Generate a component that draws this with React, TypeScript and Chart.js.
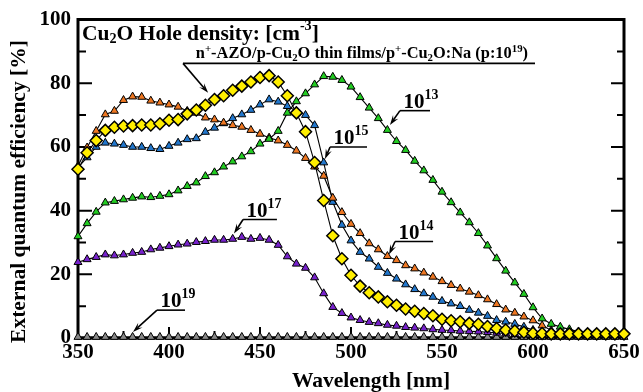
import React, { useEffect, useRef } from 'react';
import { Chart, registerables } from 'chart.js';
Chart.register(...registerables);

const FONT = '"Liberation Serif", "DejaVu Serif", "Times New Roman", serif';

// Wavelength grid [nm]
const wavelengths = [
  350, 355, 360, 365, 370, 375, 380, 385, 390, 395, 400, 405, 410, 415, 420, 425, 430, 435, 440, 445,
  450, 455, 460, 465, 470, 475, 480, 485, 490, 495, 500, 505, 510, 515, 520, 525, 530, 535, 540, 545,
  550, 555, 560, 565, 570, 575, 580, 585, 590, 595, 600, 605, 610, 615, 620, 625, 630, 635, 640, 645, 650,
];

// EQE [%] for n+-AZO/p-Cu2O thin films/p+-Cu2O:Na (p:10^19)
const eqeBuffer = [
  53, 58.2, 62, 65.2, 66.2, 66.6, 66.7, 66.9, 66.9, 67.3, 68.4, 68.6, 70.4, 71.6, 73.1, 74.9, 76.1, 77.8, 79.1, 80.4,
  81.8, 82.4, 80.4, 76.1, 70.7, 64.8, 55.1, 43.2, 32.1, 24.9, 19.7, 16.3, 14.2, 12.9, 11.4, 10.3, 9.1, 8.4, 7.7, 7.0,
  5.9, 5.4, 5.1, 4.6, 4.3, 3.6, 3.0, 2.5, 2.2, 1.8, 1.5, 1.4, 1.3, 1.3, 1.3, 1.3, 1.3, 1.3, 1.3, 1.3, 1.3,
];
// Hole density 1e13
const eqe13 = [
  31.9, 36, 39.6, 42.5, 43, 43.5, 44, 44.4, 44.2, 44.6, 45.1, 46.3, 47.7, 48.8, 50.8, 52, 53.8, 55.4, 57, 58.6,
  61, 62.5, 65, 70.7, 74.3, 76.8, 79.6, 82.2, 82, 81, 78.9, 75.6, 72.3, 69, 65.3, 61.8, 59, 55.6, 52.6, 49.6,
  45.9, 42.6, 39.4, 36.3, 32.9, 29, 25, 21.1, 17.4, 13.8, 9.6, 6.1, 4.4, 3.5, 2.7, 2, 1.5,
];
// Hole density 1e14
const eqe14 = [
  54, 59.8, 65, 70.2, 71.3, 74.7, 75.8, 75.7, 74.5, 73.9, 73.3, 72.6, 71.3, 70.7, 69.2, 68.6, 67.6, 66.8, 66.3, 65.3,
  64.1, 62.9, 62, 60.6, 58.8, 56.5, 53.8, 50.9, 44, 39.5, 35.8, 32.9, 29.7, 27.8, 25.7, 24.4, 22.8, 21.8, 20.5, 19.2,
  17.8, 16.6, 15.5, 14.5, 13.4, 12.1, 10.6, 8.9, 7.9, 6.7, 5.5, 3.9, 2.4, 1.3,
];
// Hole density 1e15
const eqe15 = [
  53.5, 56.7, 60, 61.3, 61, 60.6, 60, 60, 59.6, 59.3, 60.3, 61.3, 62.4, 62.7, 64.7, 66, 67.4, 69, 70.2, 71.6,
  73.3, 74.9, 74.2, 72.8, 71.3, 70, 66.8, 55.1, 42.7, 35.5, 30.6, 27, 24.9, 22.3, 20.4, 18.6, 16.8, 15.3, 14, 12.9,
  11.6, 10.8, 10, 8.8, 7.9, 6.9, 5.6, 5.1, 4.4, 3.5, 2.5, 1.6, 1,
];
// Hole density 1e17
const eqe17 = [
  23.8, 24.7, 25.4, 26.2, 25.9, 26.2, 26.7, 27, 27.8, 28.3, 28.8, 29.3, 29.6, 30.1, 30.4, 30.8, 30.8, 31.1, 31.7, 31.1,
  31.4, 30.8, 29.2, 25.6, 23.3, 22, 19, 14, 9.7, 7.8, 6.4, 5.6, 5, 4.6, 4.1, 3.8, 3.4, 3.2, 3, 2.7,
  2.5, 2.4, 2.2, 2.1, 2, 1.8, 1.6, 1.4, 1.2,
];
// Hole density 1e19
const eqe19 = [
  0.3, 0.3, 0.3, 0.3, 0.3, 0.3, 0.3, 0.3, 0.3, 0.3, 0.3, 0.3, 0.3, 0.3, 0.3, 0.3, 0.3, 0.3, 0.3, 0.3,
  0.3, 0.3, 0.3, 0.3, 0.3, 0.3, 0.3, 0.3, 0.3, 0.3, 0.3, 0.3, 0.3, 0.3, 0.3, 0.3, 0.3, 0.3, 0.3, 0.3,
  0.3, 0.3, 0.3, 0.3, 0.3, 0.3, 0.3, 0.3, 0.3, 0.3, 0.3, 0.3, 0.3, 0.3, 0.3, 0.3, 0.3, 0.3, 0.3, 0.3, 0.3,
];

const seriesLabels = ['p+ layer', '10^13', '10^14', '10^15', '10^17', '10^19'];
const xTitle = 'Wavelength [nm]';
const yTitle = 'External quantum efficiency [%]';

type Seg = { t: string; sup?: boolean; sub?: boolean };

function richWidth(ctx: CanvasRenderingContext2D, segs: Seg[], size: number) {
  let w = 0;
  for (const s of segs) {
    const fs = s.sup || s.sub ? size * 0.66 : size;
    ctx.font = `bold ${fs}px ${FONT}`;
    w += ctx.measureText(s.t).width;
  }
  return w;
}

function drawRich(ctx: CanvasRenderingContext2D, x: number, y: number, segs: Seg[], size: number, align: 'left' | 'center' = 'left') {
  let cx = x;
  if (align === 'center') cx = x - richWidth(ctx, segs, size) / 2;
  ctx.textAlign = 'left';
  ctx.textBaseline = 'alphabetic';
  ctx.fillStyle = '#000';
  for (const s of segs) {
    const fs = s.sup || s.sub ? size * 0.66 : size;
    ctx.font = `bold ${fs}px ${FONT}`;
    const dy = s.sup ? -size * 0.42 : s.sub ? size * 0.18 : 0;
    ctx.fillText(s.t, cx, y + dy);
    cx += ctx.measureText(s.t).width;
  }
}

function arrow(ctx: CanvasRenderingContext2D, x0: number, y0: number, x1: number, y1: number) {
  const ang = Math.atan2(y1 - y0, x1 - x0);
  const len = 10, hw = 3.2;
  ctx.beginPath();
  ctx.moveTo(x0, y0);
  ctx.lineTo(x1 - Math.cos(ang) * len * 0.6, y1 - Math.sin(ang) * len * 0.6);
  ctx.stroke();
  ctx.beginPath();
  ctx.moveTo(x1, y1);
  ctx.lineTo(x1 - Math.cos(ang) * len + Math.sin(ang) * hw, y1 - Math.sin(ang) * len - Math.cos(ang) * hw);
  ctx.lineTo(x1 - Math.cos(ang) * len * 0.6, y1 - Math.sin(ang) * len * 0.6);
  ctx.lineTo(x1 - Math.cos(ang) * len - Math.sin(ang) * hw, y1 - Math.sin(ang) * len + Math.cos(ang) * hw);
  ctx.closePath();
  ctx.fill();
}

// label annotations in data coordinates
const labelNotes = [
  { exp: '13', x0: 526.9, x1: 543.4, y: 71.4, tx: 521.4, ty: 66.9 },
  { exp: '15', x0: 488.5, x1: 508.8, y: 60.0, tx: 485.7, ty: 56.2 },
  { exp: '14', x0: 524.2, x1: 545.1, y: 30.3, tx: 520.9, ty: 26.2 },
  { exp: '17', x0: 440.7, x1: 459.3, y: 37.2, tx: 435.7, ty: 32.8 },
  { exp: '19', x0: 393.4, x1: 408.8, y: 8.75, tx: 380.2, ty: 1.9 },
];

const framePlugin = {
  id: 'frame',
  beforeDatasetsDraw(chart: any) {
    const ctx: CanvasRenderingContext2D = chart.ctx;
    const { left, right, top, bottom } = chart.chartArea;
    const xs = chart.scales.x, ys = chart.scales.y;
    ctx.save();
    ctx.strokeStyle = '#000';
    ctx.lineWidth = 2;
    for (let v = 10; v < 100; v += 10) {
      const py = ys.getPixelForValue(v);
      const major = v % 20 === 0;
      ctx.beginPath();
      ctx.moveTo(left, py); ctx.lineTo(left + (major ? 14 : 8), py);
      ctx.moveTo(right, py); ctx.lineTo(right - (major ? 13 : 7), py);
      ctx.stroke();
    }
    for (let v = 375; v < 650; v += 25) {
      const px = xs.getPixelForValue(v);
      const major = v % 50 === 0;
      ctx.beginPath();
      ctx.moveTo(px, bottom); ctx.lineTo(px, bottom - (major ? 11 : 7));
      ctx.stroke();
    }
    ctx.lineWidth = 3;
    ctx.beginPath();
    ctx.moveTo(left, top); ctx.lineTo(left, bottom); ctx.lineTo(right, bottom); ctx.lineTo(right, top); ctx.lineTo(left, top);
    ctx.closePath();
    ctx.stroke();
    ctx.restore();
  },
  afterDraw(chart: any) {
    const ctx: CanvasRenderingContext2D = chart.ctx;
    const xs = chart.scales.x, ys = chart.scales.y;
    const X = (v: number) => xs.getPixelForValue(v);
    const Y = (v: number) => ys.getPixelForValue(v);
    ctx.save();
    // axis titles
    ctx.fillStyle = '#000';
    ctx.font = `bold 21.5px ${FONT}`;
    ctx.textAlign = 'center';
    ctx.textBaseline = 'alphabetic';
    ctx.fillText(xTitle, X(511), 387);
    ctx.save();
    ctx.translate(25, Y(46));
    ctx.rotate(-Math.PI / 2);
    ctx.fillText(yTitle, 0, 0);
    ctx.restore();

    // title
    drawRich(ctx, X(352.2), Y(93.75), [
      { t: 'Cu' }, { t: '2', sub: true }, { t: 'O Hole density: [cm' }, { t: '-3', sup: true }, { t: ']' },
    ], 21.5);
    // subtitle
    drawRich(ctx, X(506), Y(87.8), [
      { t: 'n' }, { t: '+', sup: true }, { t: '-AZO/p-Cu' }, { t: '2', sub: true }, { t: 'O thin films/p' },
      { t: '+', sup: true }, { t: '-Cu' }, { t: '2', sub: true }, { t: 'O:Na (p:10' }, { t: '19', sup: true }, { t: ')' },
    ], 16.4, 'center');
    ctx.strokeStyle = '#000';
    ctx.fillStyle = '#000';
    ctx.lineWidth = 1.6;
    ctx.beginPath();
    ctx.moveTo(X(407.7), Y(86.25)); ctx.lineTo(X(601.1), Y(86.25));
    ctx.stroke();
    arrow(ctx, X(407.7), Y(86.25), X(421.5), Y(77.0));

    for (const n of labelNotes) {
      const px0 = X(n.x0), py = Y(n.y);
      drawRich(ctx, px0 + 3.5, py - 3, [{ t: '10' }, { t: n.exp, sup: true }], 21);
      ctx.strokeStyle = '#000';
      ctx.fillStyle = '#000';
      ctx.lineWidth = 1.6;
      ctx.beginPath();
      ctx.moveTo(px0, py); ctx.lineTo(X(n.x1), py);
      ctx.stroke();
      arrow(ctx, px0, py, X(n.tx), Y(n.ty));
    }
    ctx.restore();
  },
};

function pts(vals: number[]) {
  return vals.map((v, i) => ({ x: wavelengths[i], y: v }));
}

export default function App() {
  const ref = useRef<HTMLCanvasElement>(null);
  useEffect(() => {
    document.body.style.margin = '0';
    const common = { borderColor: '#000', borderWidth: 1.1, pointBorderColor: '#000', pointBorderWidth: 1, clip: false as any, tension: 0 };
    const tri = { pointStyle: 'triangle', pointRadius: 4.6 };
    const chart = new Chart(ref.current!, {
      type: 'line',
      data: {
        datasets: [
          { label: seriesLabels[0], data: pts(eqeBuffer), ...common, pointStyle: 'rectRot', pointRadius: 6, pointBorderWidth: 1.5, pointBackgroundColor: '#ffee00' },
          { label: seriesLabels[1], data: pts(eqe13), ...common, ...tri, pointBackgroundColor: '#22cc22' },
          { label: seriesLabels[2], data: pts(eqe14), ...common, ...tri, pointBackgroundColor: '#ee7722' },
          { label: seriesLabels[3], data: pts(eqe15), ...common, ...tri, pointBackgroundColor: '#2277cc' },
          { label: seriesLabels[4], data: pts(eqe17), ...common, ...tri, pointBackgroundColor: '#7722cc' },
          { label: seriesLabels[5], data: pts(eqe19), ...common, ...tri, pointBackgroundColor: '#888888' },
        ] as any,
      },
      options: {
        responsive: false,
        animation: false,
        events: [],
        layout: { padding: { top: 18, right: 19, left: 0, bottom: 0 } },
        plugins: { legend: { display: false }, tooltip: { enabled: false } },
        scales: {
          x: {
            type: 'linear', min: 350, max: 650,
            grid: { display: false, drawTicks: false },
            border: { display: false },
            ticks: { stepSize: 50, padding: 2, color: '#000', font: { family: FONT, size: 21, weight: 'bold' } },
            afterFit: (s: any) => { s.height = 54; },
          },
          y: {
            min: 0, max: 100,
            grid: { display: false, drawTicks: false },
            border: { display: false },
            ticks: { stepSize: 20, padding: 7, color: '#000', font: { family: FONT, size: 21, weight: 'bold' } },
            afterFit: (s: any) => { s.width = 78; },
          },
        },
      } as any,
      plugins: [framePlugin],
    });
    return () => chart.destroy();
  }, []);
  return (
    <div style={{ position: 'absolute', left: 0, top: 0, width: 643, height: 392, background: '#fff' }}>
      <canvas ref={ref} width={643} height={392} style={{ display: 'block', width: 643, height: 392 }} />
    </div>
  );
}
